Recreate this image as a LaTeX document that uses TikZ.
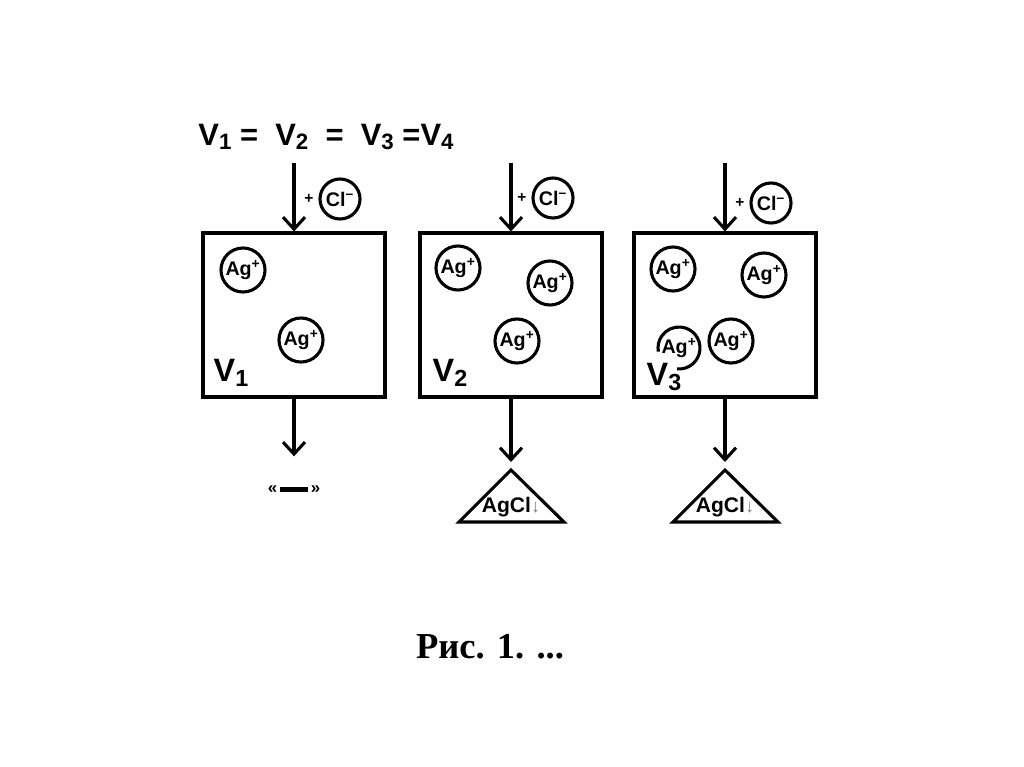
\documentclass[tikz,border=0pt]{standalone}
\usepackage{fontspec}
\setmainfont{Liberation Sans}
\newfontfamily\capfont{Liberation Serif}
\usetikzlibrary{arrows.meta, positioning}

\newcommand{\lowsub}[1]{\raisebox{-0.3ex}{\fontsize{0.72em}{0.72em}\selectfont #1}}

\begin{document}
\begin{tikzpicture}[
    x=0.025cm, y=-0.025cm,
    vessel/.style={draw, line width=2.2pt, minimum width=4.55cm, minimum height=4.1cm},
    ion/.style={circle, draw, line width=2.2pt, minimum size=1.1cm, inner sep=0pt,
                font=\fontsize{14}{14}\selectfont\bfseries},
    clion/.style={ion, minimum size=1.0cm},
    vlab/.style={font=\fontsize{23}{23}\selectfont\bfseries},
    plus/.style={font=\fontsize{11}{11}\selectfont\bfseries},
    arr/.style={-{Straight Barb[length=3mm, width=5.5mm]}, line width=2.2pt},
    tri/.style={draw, line width=2.2pt, line join=miter}
]
\useasboundingbox[fill=white] (0,0) rectangle (1024,767);

\node[font=\fontsize{22}{22}\selectfont\bfseries] (eq) at (326,137)
    {V\lowsub{1} = \ V\lowsub{2} \ = \ V\lowsub{3} =V\lowsub{4}};

% vessels
\node[vessel] (box1) at (294,315) {};
\node[vessel] (box2) at (511,315) {};
\node[vessel] (box3) at (725,315) {};

\node[vlab] (v1) at (231,373) {V\lowsub{1}};
\node[vlab] (v2) at (450,373) {V\lowsub{2}};
\node[vlab] (v3) at (664,377) {V\lowsub{3}};

% added chloride
\coordinate (in1) at (294,163);
\coordinate (in2) at (511,163);
\coordinate (in3) at (725,163);
\node[clion] (cl1) at (340,199) {Cl\textsuperscript{–}};
\node[clion] (cl2) at (553,198) {Cl\textsuperscript{–}};
\node[clion] (cl3) at (771,203) {Cl\textsuperscript{–}};
\node[plus, left=0pt of cl1] (p1) {+};
\node[plus, left=0pt of cl2] (p2) {+};
\node[plus, left=0pt of cl3] (p3) {+};
\draw[arr] (in1) -- (box1.north);
\draw[arr] (in2) -- (box2.north);
\draw[arr] (in3) -- (box3.north);

% silver ions
\node[ion] (ag11) at (243,270) {Ag\textsuperscript{+}};
\node[ion] (ag12) at (301,340) {Ag\textsuperscript{+}};
\node[ion] (ag21) at (458,268) {Ag\textsuperscript{+}};
\node[ion] (ag22) at (550,283) {Ag\textsuperscript{+}};
\node[ion] (ag23) at (517,341) {Ag\textsuperscript{+}};
\node[ion] (ag31) at (673,269) {Ag\textsuperscript{+}};
\node[ion] (ag32) at (764,275) {Ag\textsuperscript{+}};
\node[ion] (ag33) at (731,341) {Ag\textsuperscript{+}};
\node[ion, draw=none] (ag34) at (679,348) {Ag\textsuperscript{+}};
\draw[line width=2.2pt] (ag34) ++(95:21) arc[start angle=95, end angle=-190, radius=21];

% results
\node[font=\fontsize{12}{12}\selectfont\bfseries] (res1) at (294,490)
    {«\,\rule[0.25ex]{0.7cm}{3pt}\,»};
\draw[tri] (511,470) -- (564,522) -- (459,522) -- cycle;
\draw[tri] (725,470) -- (778,522) -- (673,522) -- cycle;
\coordinate (tri2) at (511,462);
\coordinate (tri3) at (725,462);
\node[font=\fontsize{15}{15}\selectfont\bfseries] (agcl2) at (511,507)
    {AgCl\textcolor{gray}{\fontsize{13}{13}\selectfont ↓}};
\node[font=\fontsize{15}{15}\selectfont\bfseries] (agcl3) at (725,507)
    {AgCl\textcolor{gray}{\fontsize{13}{13}\selectfont ↓}};
\draw[arr, shorten >=0.62cm] (box1.south) -- (res1);
\draw[arr] (box2.south) -- (tri2);
\draw[arr] (box3.south) -- (tri3);

\node[font=\capfont\fontsize{26}{26}\selectfont\bfseries] (cap) at (490,647) {Рис. 1. ...};
\end{tikzpicture}
\end{document}
